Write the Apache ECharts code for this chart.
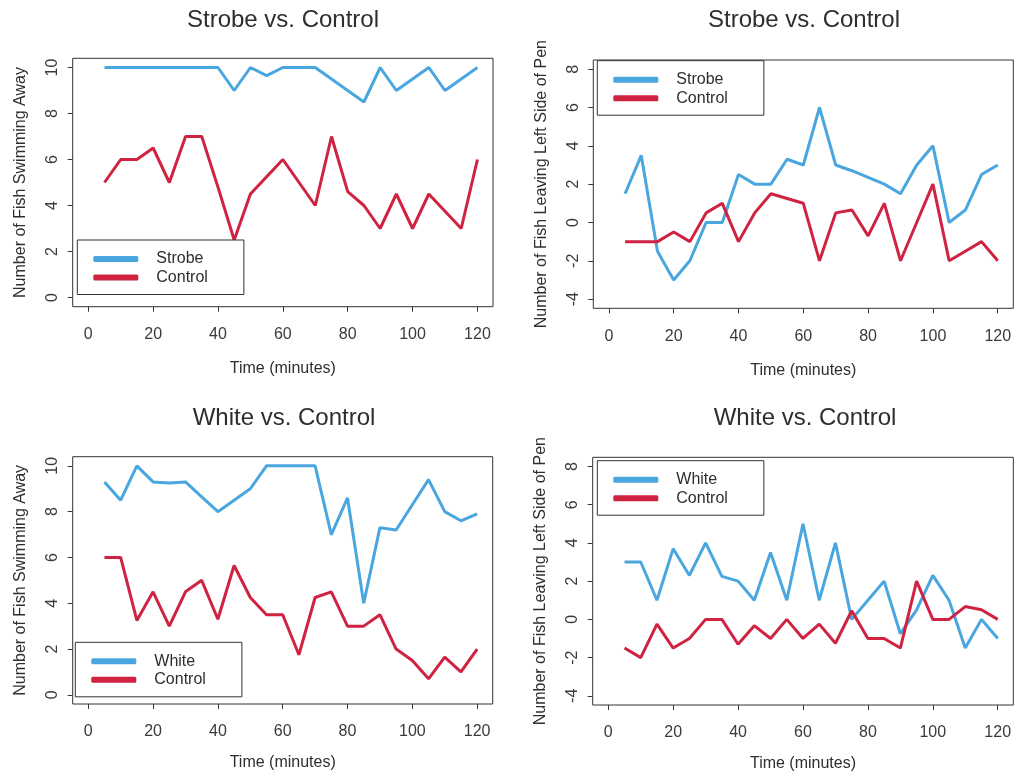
<!DOCTYPE html>
<html>
<head>
<meta charset="utf-8">
<script src="https://cdn.jsdelivr.net/npm/echarts@6/dist/echarts.min.js"></script>
<style>html,body{margin:0;padding:0;background:#fff;}#chart{width:1015px;height:774px;}</style>
</head>
<body>
<div id="chart"></div>
<script>
// ---- Data ----
const times = [5,10,15,20,25,30,35,40,45,50,55,60,65,70,75,80,85,90,95,100,105,110,115,120];
const xTicks = [0,20,40,60,80,100,120];
const yTicksAway = [0,2,4,6,8,10];
const yTicksLeft = [-4,-2,0,2,4,6,8];

const titles = ['Strobe vs. Control','Strobe vs. Control','White vs. Control','White vs. Control'];
const xName = 'Time (minutes)';
const yNameAway = 'Number of Fish Swimming Away';
const yNameLeft = 'Number of Fish Leaving Left Side of Pen';

// Panel 1: Strobe vs Control, swimming away
const strobeAway  = [10,10,10,10,10,10,10,10,9,10,9.65,10,10,10,9.5,9,8.5,10,9,9.5,10,9,9.5,10];
const controlAway1 = [5,6,6,6.5,5,7,7,4.8,2.5,4.5,5.25,6,5,4,7,4.6,4,3,4.5,3,4.5,3.75,3,6];
// Panel 2: Strobe vs Control, leaving left side
const strobeLeft  = [1.5,3.5,-1.5,-3,-2,0,0,2.5,2,2,3.3,3,6,3,2.7,2.35,2,1.5,3,4,0,0.65,2.5,3];
const controlLeft1 = [-1,-1,-1,-0.5,-1,0.5,1,-1,0.5,1.5,1.25,1,-2,0.5,0.65,-0.7,1,-2,0,2,-2,-1.5,-1,-2];
// Panel 3: White vs Control, swimming away
const whiteAway   = [9.3,8.5,10,9.3,9.25,9.3,8.65,8,8.5,9,10,10,10,10,7,8.6,4,7.3,7.2,8.3,9.4,8,7.6,7.9];
const controlAway2 = [6,6,3.25,4.5,3,4.5,5,3.3,5.65,4.25,3.5,3.5,1.75,4.25,4.5,3,3,3.5,2,1.5,0.7,1.65,1,2];
// Panel 4: White vs Control, leaving left side
const whiteLeft   = [3,3,1,3.7,2.3,4,2.25,2,1,3.5,1,5,1,4,0,1,2,-0.75,0.5,2.3,1,-1.5,0,-1];
const controlLeft2 = [-1.5,-2,-0.25,-1.5,-1,0,0,-1.3,-0.33,-1,0,-1,-0.25,-1.25,0.45,-1,-1,-1.5,2,0,0,0.67,0.5,0];

const panelSeries = [
  [['Strobe', strobeAway], ['Control', controlAway1]],
  [['Strobe', strobeLeft], ['Control', controlLeft1]],
  [['White', whiteAway], ['Control', controlAway2]],
  [['White', whiteLeft], ['Control', controlLeft2]]
];

// ---- Style / layout ----
const BLUE = '#49a6df';
const RED = '#cf2341';
const FONT = 'Liberation Sans, Arial, sans-serif';
const TEXT = '#2e2e2e';
const grids = [
  {left: 72.7, top: 58.3, width: 420.3, height: 248.4},
  {left: 593.3, top: 60, width: 420, height: 248.3},
  {left: 72.7, top: 456.7, width: 420, height: 247.3},
  {left: 592.7, top: 457.3, width: 420.6, height: 247.7}
];
const titlePos = [[283, 8.5], [804, 8.5], [284, 406], [805, 406]];
const legendPos = [[77.3, 240], [597.3, 60.7], [75.3, 642.3], [597.3, 460.7]];
const yRanges = [[-0.4, 10.4], [-4.48, 8.48], [-0.4, 10.4], [-4.48, 8.48]];

const pair = (ys) => times.map((t, i) => [t, ys[i]]);

const option = {
  animation: false,
  backgroundColor: '#fff',
  textStyle: {fontFamily: FONT},
  title: titles.map((t, i) => ({
    text: t, left: titlePos[i][0], top: titlePos[i][1], textAlign: 'center', padding: 0,
    textStyle: {fontFamily: FONT, fontSize: 24, fontWeight: 'normal', color: TEXT}
  })),
  grid: grids.map(g => Object.assign({show: true, borderColor: '#333', borderWidth: 1, backgroundColor: 'transparent', containLabel: false}, g)),
  legend: panelSeries.map((ps, i) => ({
    data: ps.map(p => p[0]),
    orient: 'vertical',
    left: legendPos[i][0], top: legendPos[i][1],
    padding: [11, 36, 9, 16],
    itemGap: 2.5,
    itemWidth: 45, itemHeight: 6,
    icon: 'roundRect',
    backgroundColor: '#fff',
    borderColor: '#333', borderWidth: 1, borderRadius: 0,
    selectedMode: false,
    z: 10,
    textStyle: {fontFamily: FONT, fontSize: 16, color: TEXT, padding: [0, 0, 0, 13]}
  })),
  xAxis: grids.map((g, i) => ({
    type: 'value', gridIndex: i, min: -4.8, max: 124.8, position: 'bottom',
    name: xName, nameLocation: 'middle', nameGap: i < 2 ? 54 : 51,
    nameTextStyle: {fontFamily: FONT, fontSize: 16, color: TEXT},
    axisLine: {show: false, onZero: false},
    axisTick: {show: true, inside: false, length: 5, customValues: xTicks, lineStyle: {color: '#333', width: 1}},
    axisLabel: {show: true, margin: 20, customValues: xTicks, fontFamily: FONT, fontSize: 16, color: '#3a3a3a'},
    splitLine: {show: false}
  })),
  yAxis: grids.map((g, i) => ({
    type: 'value', gridIndex: i, min: yRanges[i][0], max: yRanges[i][1], position: 'left',
    name: (i % 2 === 0) ? yNameAway : yNameLeft, nameLocation: 'middle', nameGap: 44,
    nameTextStyle: {fontFamily: FONT, fontSize: 16, color: TEXT},
    axisLine: {show: false, onZero: false},
    axisTick: {show: true, inside: false, length: 5, customValues: (i % 2 === 0) ? yTicksAway : yTicksLeft, lineStyle: {color: '#333', width: 1}},
    axisLabel: {show: true, margin: 12, rotate: 90, customValues: (i % 2 === 0) ? yTicksAway : yTicksLeft, fontFamily: FONT, fontSize: 16, color: '#3a3a3a'},
    splitLine: {show: false}
  })),
  series: []
};

panelSeries.forEach((ps, i) => {
  ps.forEach((p, j) => {
    option.series.push({
      name: p[0], type: 'line', xAxisIndex: i, yAxisIndex: i,
      data: pair(p[1]), symbol: 'none', showSymbol: false,
      lineStyle: {width: 3, color: j === 0 ? BLUE : RED},
      itemStyle: {color: j === 0 ? BLUE : RED},
      z: 2
    });
  });
});

const chart = echarts.init(document.getElementById('chart'), null, {renderer: 'canvas'});
chart.setOption(option);
</script>
</body>
</html>
